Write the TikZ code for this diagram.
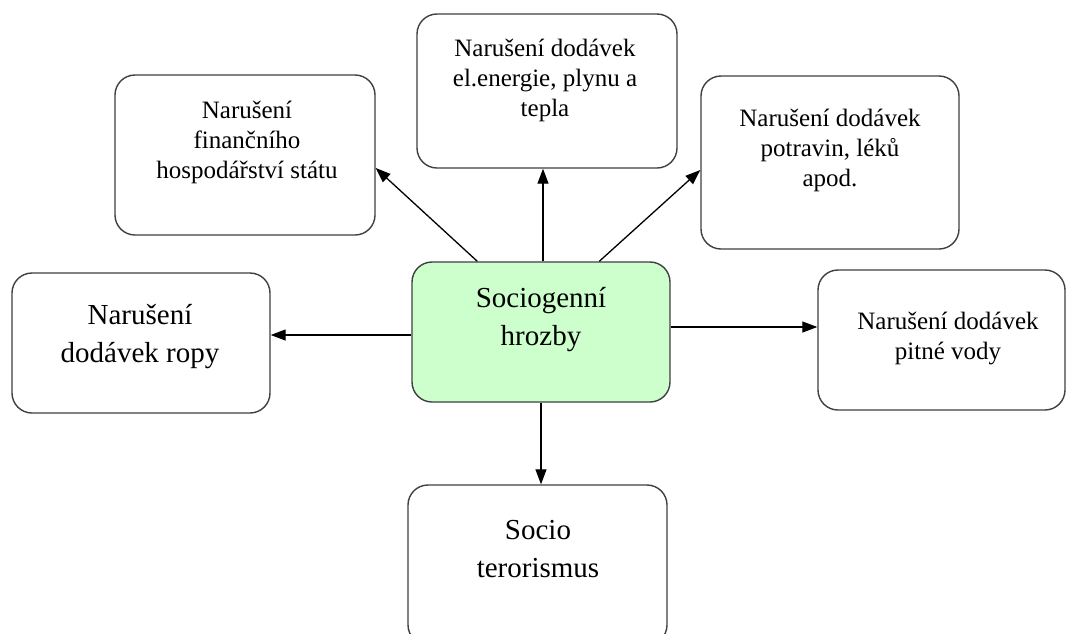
\documentclass[tikz,border=0pt]{standalone}
\usepackage{fontspec}
\setmainfont{Liberation Serif}
\usetikzlibrary{arrows.meta,calc}
\definecolor{boxline}{HTML}{404040}
\definecolor{hubfill}{HTML}{CCFFCC}
\tikzset{
  x=1pt, y=-1pt,
  card/.style={draw=boxline, line width=1.4pt, rounded corners=20pt, fill=white, inner sep=0pt},
  hub/.style={card, fill=hubfill},
  small/.style={inner sep=0pt, align=center, font=\fontsize{25pt}{30pt}\selectfont},
  big/.style={inner sep=0pt, align=center, font=\fontsize{29pt}{38pt}\selectfont},
  link/.style={line width=1.3pt, -{Triangle[length=15pt,width=11pt]}},
}
\begin{document}
\begin{tikzpicture}
\useasboundingbox (0,0) rectangle (1066,633);
\fill[white] (0,0) rectangle (1066,633);

% boxes
\node[card, minimum width=260pt, minimum height=160pt] (fin) at (245,155) {};
\node[card, minimum width=260pt, minimum height=154pt] (el) at (547,91) {};
\node[card, minimum width=258pt, minimum height=173pt] (potr) at (830,162.5) {};
\node[card, minimum width=258pt, minimum height=140pt] (ropa) at (141,343) {};
\node[hub,  minimum width=258pt, minimum height=140pt] (hub) at (541,332) {};
\node[card, minimum width=247pt, minimum height=140pt] (voda) at (941.5,340) {};
\node[card, minimum width=259pt, minimum height=160pt] (tero) at (537.5,565) {};

% labels
\node[small] (tfin) at (247,142) {Narušení\\finančního\\hospodářství státu};
\node[small] (tel) at (545,80) {Narušení dodávek\\el.energie, plynu a\\tepla};
\node[small] (tpotr) at (830,150) {Narušení dodávek\\potravin, léků\\apod.};
\node[big] (tropa) at (140,337) {Narušení\\dodávek ropy};
\node[big] (thub) at (541,320) {Sociogenní\\hrozby};
\node[small] (tvoda) at (948,338) {Narušení dodávek\\pitné vody};
\node[big] (ttero) at (538,549) {Socio\\terorismus};

% connectors
\draw[link] ($(hub.north west)+(66,0)$) -- ($(fin.east)+(0,13)$);
\draw[link] ($(hub.north)+(2,0)$) -- ($(el.south)+(-4,0)$);
\draw[link] ($(hub.north west)+(188,0)$) -- ($(potr.west)+(0,7.5)$);
\draw[link] ($(hub.west)+(0,3)$) -- ($(ropa.east)+(0,-8)$);
\draw[link] ($(hub.east)+(0,-5)$) -- ($(voda.west)+(0,-13)$);
\draw[link] (hub.south) -- ($(tero.north)+(3.5,0)$);
\end{tikzpicture}
\end{document}
